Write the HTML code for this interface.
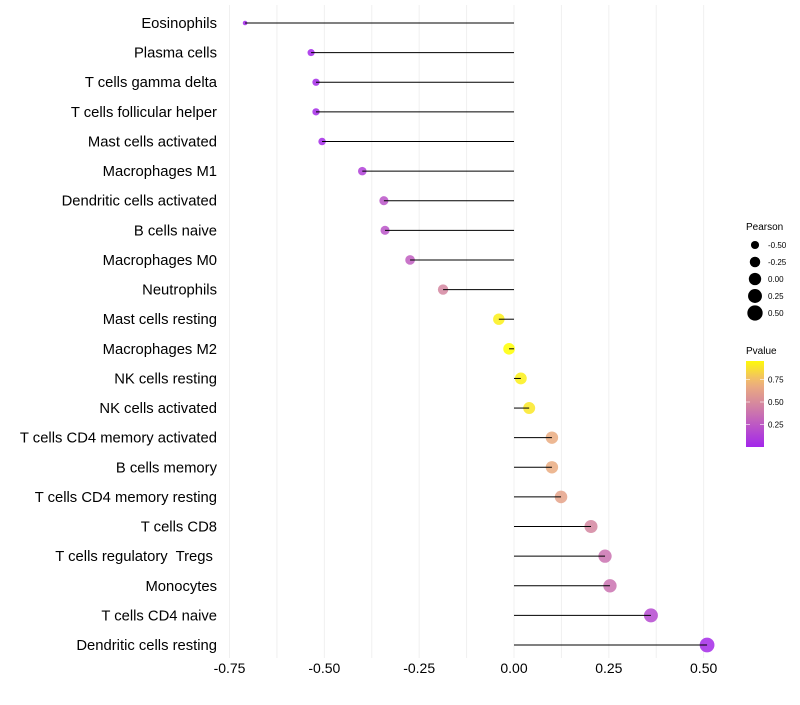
<!DOCTYPE html>
<html><head><meta charset="utf-8"><style>
body{margin:0;background:#fff;font-family:"Liberation Sans",sans-serif}
svg text{font-family:"Liberation Sans",sans-serif;white-space:pre}
</style></head><body>
<svg id="c" width="800" height="700"></svg>
<script>
const categories=["Eosinophils","Plasma cells","T cells gamma delta","T cells follicular helper","Mast cells activated","Macrophages M1","Dendritic cells activated","B cells naive","Macrophages M0","Neutrophils","Mast cells resting","Macrophages M2","NK cells resting","NK cells activated","T cells CD4 memory activated","B cells memory","T cells CD4 memory resting","T cells CD8","T cells regulatory  Tregs ","Monocytes","T cells CD4 naive","Dendritic cells resting"];
const pearson=[-0.709,-0.535,-0.522,-0.522,-0.506,-0.40,-0.343,-0.34,-0.274,-0.187,-0.04,-0.013,0.018,0.04,0.10,0.10,0.124,0.203,0.24,0.253,0.361,0.509];
const pvalue=[0.03,0.04,0.05,0.05,0.05,0.15,0.25,0.25,0.3,0.5,0.95,1.0,0.95,0.92,0.7,0.7,0.65,0.5,0.4,0.4,0.2,0.05];
const xTicks=[-0.75,-0.5,-0.25,0,0.25,0.5];
const xTickLabels=["-0.75","-0.50","-0.25","0.00","0.25","0.50"];
const sizeLegend=[-0.5,-0.25,0,0.25,0.5];
const sizeLegendLabels=["-0.50","-0.25","0.00","0.25","0.50"];
const pLegend=[0.25,0.5,0.75];
const pLegendLabels=["0.25","0.50","0.75"];

const NS="http://www.w3.org/2000/svg";
const svg=document.getElementById('c');
const X=v=>514+v*379.3;
const Y=i=>23+i*29.62;
const R=v=>Math.sqrt(4+38*Math.max(0,v+0.71))+0.3;
function col(p){
  const stops=[[0,[160,32,240]],[0.5,[212,134,160]],[0.75,[240,180,120]],[1,[255,255,0]]];
  for(let k=1;k<stops.length;k++){if(p<=stops[k][0]){const a=stops[k-1],b=stops[k];const t=(p-a[0])/(b[0]-a[0]);
    return 'rgb('+a[1].map((c,j)=>Math.round(c+(b[1][j]-c)*t)).join(',')+')';}}
  return 'rgb(255,255,0)';
}
function el(t,a,txt){const e=document.createElementNS(NS,t);for(const k in a)e.setAttribute(k,a[k]);if(txt!==undefined)e.textContent=txt;svg.appendChild(e);return e;}
for(let v=-0.75;v<=0.5001;v+=0.125){
  const g=el('line',{x1:X(v),x2:X(v),y1:5,y2:658,stroke:'#f0f0f0','stroke-width':1});
  
  
}
xTicks.forEach((v,i)=>{
  const t=el('text',{x:X(v),y:673,'font-size':14,'text-anchor':'middle',fill:'#000'},xTickLabels[i]);
  
  
});
categories.forEach((c,i)=>{
  const t=el('text',{x:217,y:Y(i)+5,'font-size':14.8,'text-anchor':'end',fill:'#000'},c);
  
  
  const p=el('circle',{cx:X(pearson[i]),cy:Y(i),r:R(pearson[i]),fill:col(pvalue[i]),'fill-opacity':0.85});
  
  
  const l=el('line',{x1:X(0),x2:X(pearson[i]),y1:Y(i),y2:Y(i),stroke:'#000','stroke-width':1});
  
  
});
const st=el('text',{x:746,y:230,'font-size':10},'Pearson');


sizeLegend.forEach((v,i)=>{
  const cy=245+i*17;
  const c=el('circle',{cx:755,cy:cy,r:R(v)+0.3,fill:'#000'});
  
  
  const t=el('text',{x:768,y:cy+3,'font-size':8},sizeLegendLabels[i]);
  
  
});
const ct=el('text',{x:746,y:354,'font-size':10},'Pvalue');


const defs=el('defs',{});
const lg=document.createElementNS(NS,'linearGradient');lg.setAttribute('id','pg');lg.setAttribute('x1',0);lg.setAttribute('y1',1);lg.setAttribute('x2',0);lg.setAttribute('y2',0);
defs.appendChild(lg);
for(let k=0;k<=10;k++){const s=document.createElementNS(NS,'stop');s.setAttribute('offset',k/10);s.setAttribute('stop-color',col(0.03+k/10*0.95));lg.appendChild(s);}
const bar=el('rect',{x:746,y:361,width:18,height:86,fill:'url(#pg)'});


pLegend.forEach((v,i)=>{
  const y=447-v*90;
  el('line',{x1:746,x2:750,y1:y,y2:y,stroke:'#fff','stroke-opacity':0.6});
  el('line',{x1:760,x2:764,y1:y,y2:y,stroke:'#fff','stroke-opacity':0.6});
  const t=el('text',{x:768,y:y+3,'font-size':8},pLegendLabels[i]);
  
  
});
</script>
</body></html>
